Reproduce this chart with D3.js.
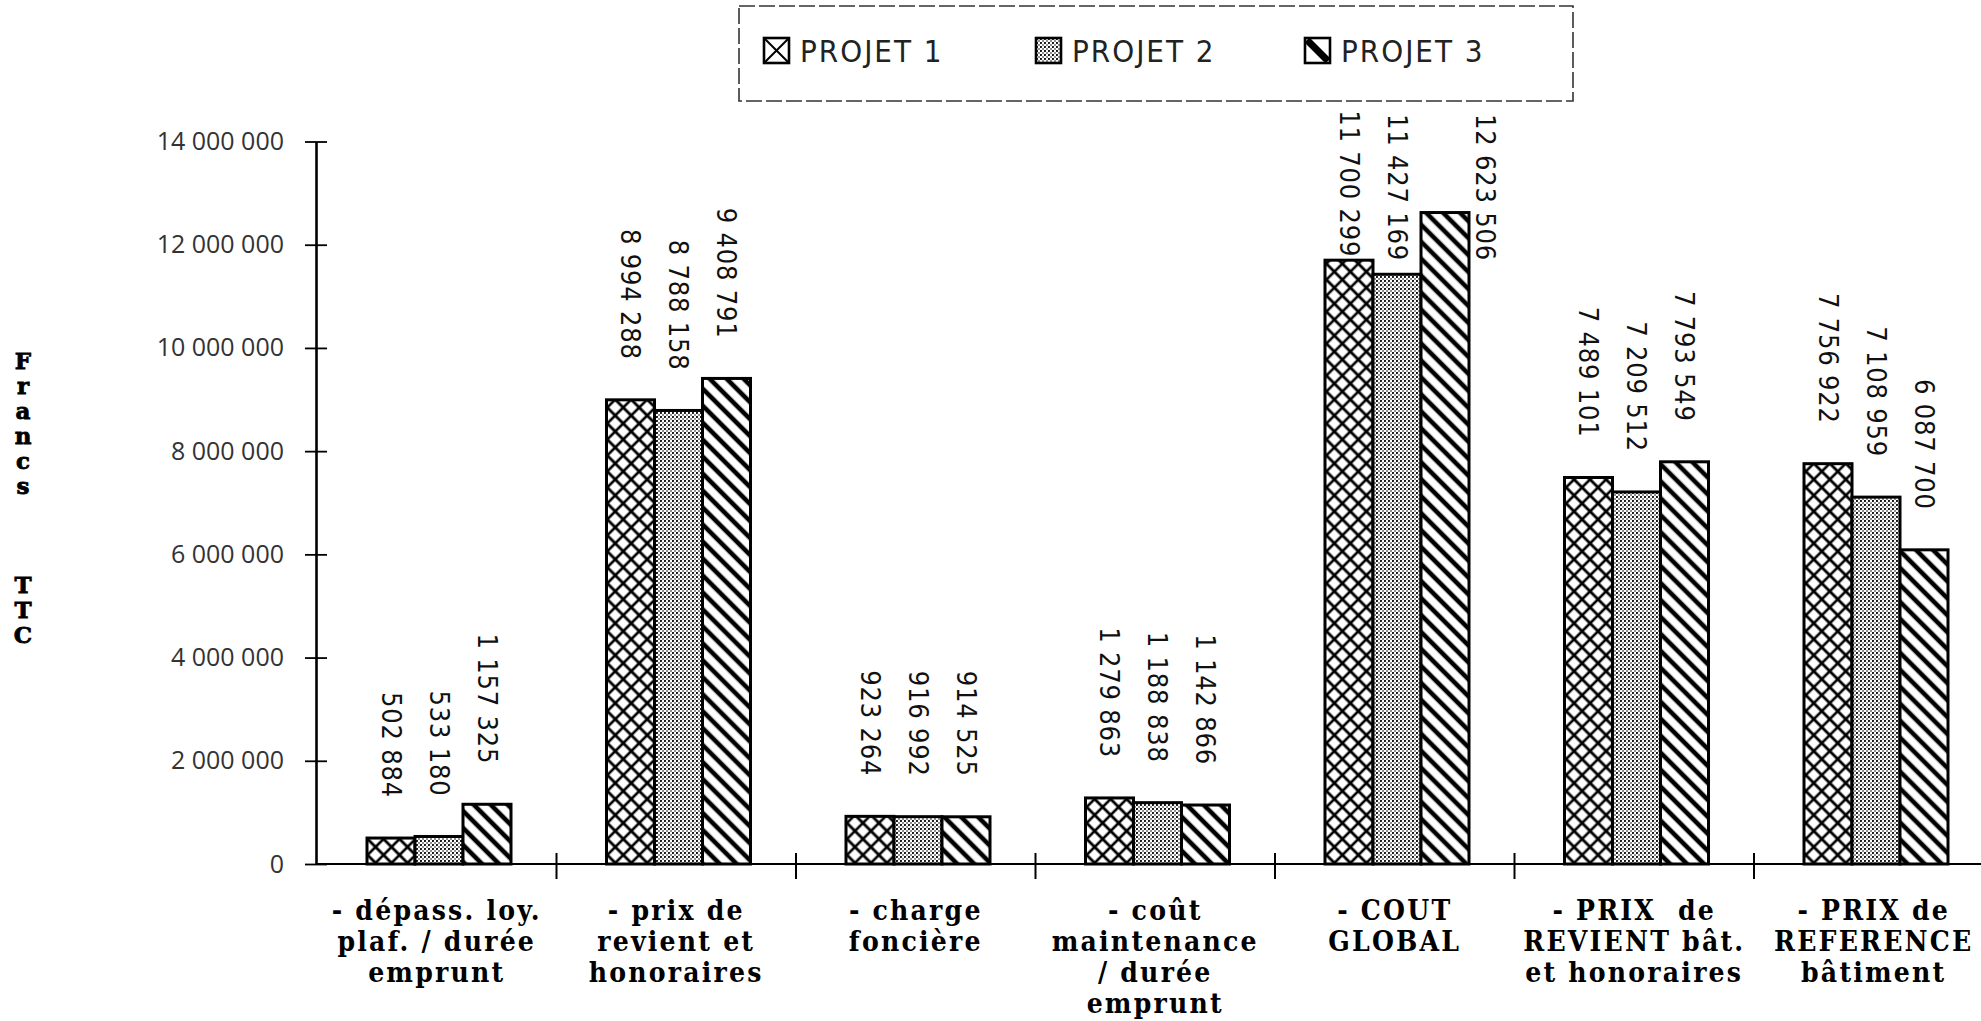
<!DOCTYPE html>
<html>
<head>
<meta charset="utf-8">
<script src="https://cdn.jsdelivr.net/npm/d3@7"></script>
<style>
  html, body { margin: 0; padding: 0; background: #fff; }
  svg { display: block; }
</style>
</head>
<body>
<div id="chart"></div>
<script>
// ---------------- DATA ----------------
const categories = [
  ["- dépass. loy.", "plaf. / durée", "emprunt"],
  ["- prix de", "revient et", "honoraires"],
  ["- charge", "foncière"],
  ["- coût", "maintenance", "/ durée", "emprunt"],
  ["- COUT", "GLOBAL"],
  ["- PRIX  de", "REVIENT bât.", "et honoraires"],
  ["- PRIX de", "REFERENCE", "bâtiment"]
];
const seriesNames = ["PROJET 1", "PROJET 2", "PROJET 3"];
const projet1 = [502884, 8994288, 923264, 1279863, 11700299, 7489101, 7756922];
const projet2 = [533180, 8788158, 916992, 1188838, 11427169, 7209512, 7108959];
const projet3 = [1157325, 9408791, 914525, 1142866, 12623506, 7793549, 6087700];
const yTicks = [0, 2000000, 4000000, 6000000, 8000000, 10000000, 12000000, 14000000];
const yTitle = "Francs TTC";

// ---------------- SETUP ----------------
const W = 1981, H = 1021;
const svg = d3.select("#chart").append("svg")
  .attr("width", W).attr("height", H)
  .attr("viewBox", `0 0 ${W} ${H}`);
svg.append("rect").attr("width", W).attr("height", H).attr("fill", "#fff");

const seriesValues = [projet1, projet2, projet3];
const catIdx = categories.map((c, i) => i);

const y = d3.scaleLinear().domain([0, 14000000]).range([864, 141.5]);
const x0 = d3.scaleBand().domain(catIdx).range([317, 317 + 7 * 239.5]).padding(0);
const x1 = d3.scaleBand().domain(seriesNames).range([50, 194]).padding(0);

const fmt = v => d3.format(",")(v).replace(/,/g, " ");
const narrow = "'DejaVu Sans Condensed','DejaVu Sans',sans-serif";

// ---------------- PATTERNS ----------------
const defs = svg.append("defs");
// crosshatch
const p1 = defs.append("pattern").attr("id", "pat0")
  .attr("patternUnits", "userSpaceOnUse").attr("width", 11.3).attr("height", 11.3)
  .attr("patternTransform", "rotate(45)");
p1.append("rect").attr("width", 11.3).attr("height", 11.3).attr("fill", "#fff");
p1.append("path").attr("d", "M0,5.65H11.3M5.65,0V11.3")
  .attr("stroke", "#000").attr("stroke-width", 2.6);
// stipple
const p2 = defs.append("pattern").attr("id", "pat1")
  .attr("patternUnits", "userSpaceOnUse").attr("width", 4).attr("height", 4);
p2.append("rect").attr("width", 4).attr("height", 4).attr("fill", "#fff");
p2.append("circle").attr("cx", 1).attr("cy", 1).attr("r", 1.05).attr("fill", "#000");
p2.append("circle").attr("cx", 3).attr("cy", 3).attr("r", 0.8).attr("fill", "#000");
// diagonal "\"
const p3 = defs.append("pattern").attr("id", "pat2")
  .attr("patternUnits", "userSpaceOnUse").attr("width", 12).attr("height", 12)
  .attr("patternTransform", "rotate(45)");
p3.append("rect").attr("width", 12).attr("height", 12).attr("fill", "#fff");
p3.append("path").attr("d", "M0,6H12").attr("stroke", "#000").attr("stroke-width", 4.6);

// ---------------- LEGEND ----------------
const lg = svg.append("g");
lg.append("rect").attr("x", 739).attr("y", 6).attr("width", 834).attr("height", 95)
  .attr("fill", "none").attr("stroke", "#333").attr("stroke-width", 1.6)
  .attr("stroke-dasharray", "16,4");
const legendX = [764, 1036, 1305];
seriesNames.forEach((s, i) => {
  const g = lg.append("g").attr("transform", `translate(${legendX[i]},38)`);
  g.append("rect").attr("width", 25).attr("height", 25)
    .attr("fill", i === 1 ? "url(#pat1)" : "#fff")
    .attr("stroke", "#000").attr("stroke-width", 2.6);
  if (i === 0) {
    g.append("path").attr("d", "M0,0L25,25M25,0L0,25").attr("stroke", "#000").attr("stroke-width", 2);
  } else if (i === 2) {
    g.append("path").attr("d", "M2,2L23,23").attr("stroke", "#000").attr("stroke-width", 7);
  }
  g.append("text").attr("x", 36).attr("y", 24)
    .attr("font-family", narrow)
    .attr("font-size", 31).attr("letter-spacing", 2).attr("fill", "#222")
    .text(s);
});

// ---------------- AXES ----------------
const yAxis = svg.append("g").attr("transform", "translate(316,0)")
  .call(d3.axisLeft(y).tickValues(yTicks).tickSizeInner(11).tickSizeOuter(0).tickPadding(21).tickFormat(fmt));
yAxis.select(".domain").attr("stroke", "#000").attr("stroke-width", 2.6);
yAxis.selectAll(".tick line").attr("x1", 11).attr("stroke", "#000").attr("stroke-width", 1.8);
yAxis.selectAll(".tick text")
  .attr("font-family", "'Open Sans','DejaVu Sans',sans-serif")
  .attr("font-size", 25).attr("fill", "#333");

// x baseline with category boundary ticks
const xAxis = svg.append("g").attr("transform", `translate(0,${y(0)})`);
xAxis.append("line").attr("x1", 316).attr("x2", W).attr("y1", 0).attr("y2", 0)
  .attr("stroke", "#000").attr("stroke-width", 2.2);
xAxis.selectAll("line.bt").data(catIdx.slice(1)).join("line").attr("class", "bt")
  .attr("x1", d => x0(d)).attr("x2", d => x0(d)).attr("y1", -11).attr("y2", 15)
  .attr("stroke", "#000").attr("stroke-width", 2);

// category labels
const catLabels = svg.append("g").selectAll("text").data(catIdx).join("text")
  .attr("text-anchor", "middle")
  .attr("font-family", "'DejaVu Serif Condensed','DejaVu Serif',serif")
  .attr("font-weight", "bold").attr("font-size", 28).attr("letter-spacing", 2.2).attr("fill", "#000")
  .attr("transform", d => `translate(${x0(d) + x0.bandwidth() / 2},920)`);
catLabels.each(function (d) {
  d3.select(this).selectAll("tspan").data(categories[d]).join("tspan")
    .attr("x", 0).attr("dy", (t, j) => j === 0 ? 0 : 31)
    .attr("xml:space", "preserve")
    .text(t => t);
});

// y title (stacked letters)
const yt = svg.append("g").attr("font-family", "'DejaVu Serif',serif").attr("font-weight", "bold")
  .attr("font-size", 23).attr("fill", "#000").attr("text-anchor", "middle")
  .attr("stroke", "#000").attr("stroke-width", 0.8);
let yy = 369;
yTitle.split("").forEach(ch => {
  if (ch === " ") { yy += 74; return; }
  yt.append("text").attr("x", 23).attr("y", yy).text(ch);
  yy += 25;
});

// ---------------- BARS ----------------
const bars = svg.append("g");
const labels = svg.append("g");
catIdx.forEach(ci => {
  seriesNames.forEach((s, si) => {
    const v = seriesValues[si][ci];
    const bx = x0(ci) + x1(s), bw = x1.bandwidth();
    bars.append("rect")
      .attr("x", bx).attr("y", y(v)).attr("width", bw).attr("height", y(0) - y(v))
      .attr("fill", `url(#pat${si})`).attr("stroke", "#000").attr("stroke-width", 3);
  });
});
// value labels (after bars so they sit on top)
catIdx.forEach(ci => {
  seriesNames.forEach((s, si) => {
    const v = seriesValues[si][ci];
    const bx = x0(ci) + x1(s), bw = x1.bandwidth();
    const t = labels.append("text")
      .attr("font-family", narrow)
      .attr("font-size", 27).attr("letter-spacing", 0.8).attr("fill", "#111")
      .attr("text-anchor", "end").attr("dominant-baseline", "central")
      .text(fmt(v));
    const len = t.node().getComputedTextLength();
    const barTop = y(v);
    let cx = bx + bw / 2;
    let end = barTop - 40;
    if (end - len < 114) {
      end = Math.min(114 + len, Math.max(barTop - 3, 114 + len - 20));
      if (end > barTop + 15) { end = 114 + len; cx = bx + bw + 16; }
    }
    t.attr("transform", `translate(${cx},${end}) rotate(90)`);
  });
});
</script>
</body>
</html>
